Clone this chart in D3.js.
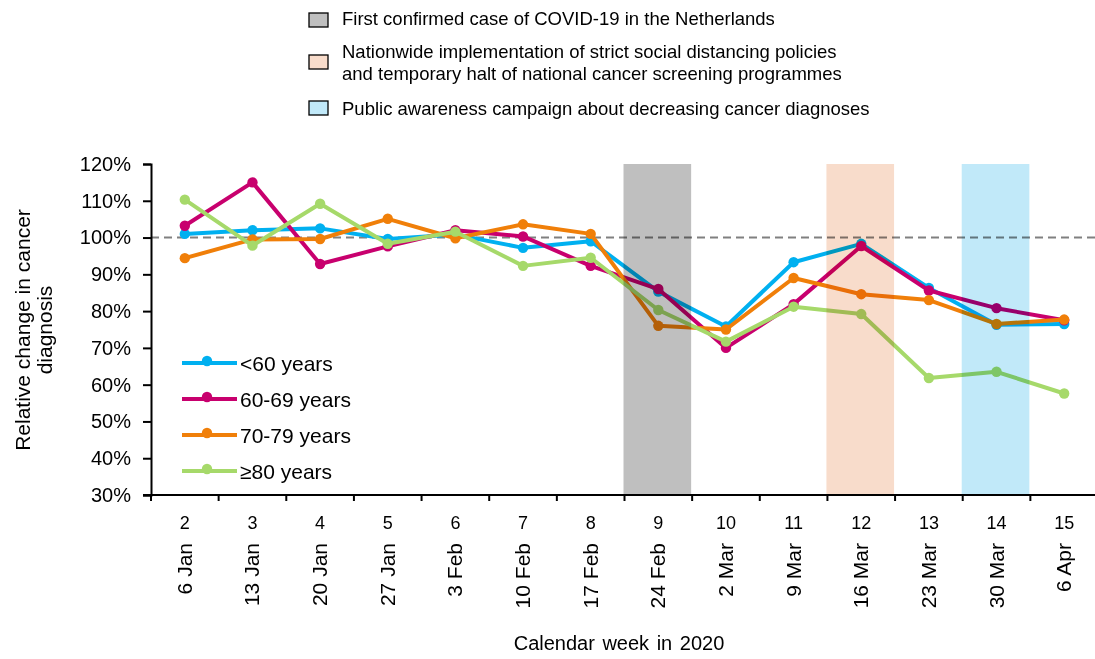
<!DOCTYPE html>
<html>
<head>
<meta charset="utf-8">
<script src="https://cdn.jsdelivr.net/npm/d3@7"></script>
<style>
  body { margin: 0; background: #fff; }
  svg { font-family: 'Liberation Sans', Arial, sans-serif; }
</style>
</head>
<body>
<div id="chart"></div>
<script>
// Calendar weeks and their start dates
const weeks = [2, 3, 4, 5, 6, 7, 8, 9, 10, 11, 12, 13, 14, 15];
const weekDates = ['6 Jan', '13 Jan', '20 Jan', '27 Jan', '3 Feb', '10 Feb', '17 Feb',
  '24 Feb', '2 Mar', '9 Mar', '16 Mar', '23 Mar', '30 Mar', '6 Apr'];

// Relative change (%) per age group
const under60 = [101, 102, 102.5, 99.6, 100.8, 97.2, 99, 85.3, 75.8, 93.3, 98.3, 86.3, 76.3, 76.5];
const age6069 = [103.2, 115, 92.8, 97.6, 102, 100.3, 92.3, 86, 70, 81.9, 97.7, 85.6, 80.8, 77.5];
const age7079 = [94.4, 99.5, 99.6, 105.1, 99.8, 103.6, 101, 76, 75, 89, 84.6, 83, 76.5, 77.7];
const over80 = [110.3, 97.8, 109.2, 98.3, 101.6, 92.3, 94.5, 80.3, 71.7, 81.2, 79.2, 61.8, 63.5, 57.6];

const seriesNames = ['<60 years', '60-69 years', '70-79 years', '\u226580 years'];
const seriesColors = ['#00b0f0', '#c8006e', '#f07f09', '#a6d96a'];

// Highlighted weeks
const eventWeeks = [9, 12, 14];
const eventColors = ['#bfbfbf', '#f8dccb', '#c1e9f9'];
const eventLabels = [
  ['First confirmed case of COVID-19 in the Netherlands'],
  ['Nationwide implementation of strict social distancing policies',
   'and temporary halt of national cancer screening programmes'],
  ['Public awareness campaign about decreasing cancer diagnoses'],
];

const yTicks = [30, 40, 50, 60, 70, 80, 90, 100, 110, 120];

const width = 1095;
const height = 659;
const margin = { left: 151, right: -3, top: 164, bottom: 164 };

const svg = d3.select('#chart').append('svg')
  .attr('width', width)
  .attr('height', height);

const x = d3.scaleBand()
  .domain(weeks)
  .range([margin.left, width - margin.right])
  .padding(0);

const y = d3.scaleLinear()
  .domain([30, 120])
  .range([height - margin.bottom, margin.top]);

const cx = (w) => x(w) + x.bandwidth() / 2;

// Dashed reference line at 100%
svg.append('line')
  .attr('x1', margin.left)
  .attr('x2', width)
  .attr('y1', y(100))
  .attr('y2', y(100))
  .attr('stroke', '#808080')
  .attr('stroke-width', 2)
  .attr('stroke-dasharray', '8,5');

// Series lines and markers
const allSeries = [under60, age6069, age7079, over80];
const line = d3.line()
  .x((d, i) => cx(weeks[i]))
  .y((d) => y(d));

allSeries.forEach((vals, si) => {
  const g = svg.append('g');
  g.append('path')
    .datum(vals)
    .attr('d', line)
    .attr('fill', 'none')
    .attr('stroke', seriesColors[si])
    .attr('stroke-width', 4)
    .attr('stroke-linejoin', 'round');
  g.selectAll('circle')
    .data(vals)
    .join('circle')
    .attr('cx', (d, i) => cx(weeks[i]))
    .attr('cy', (d) => y(d))
    .attr('r', 5.2)
    .attr('fill', seriesColors[si]);
});

// Event bands drawn over the lines (multiply blend)
svg.append('g')
  .selectAll('rect')
  .data(eventWeeks)
  .join('rect')
  .attr('x', (d) => x(d) - 1)
  .attr('y', y(120))
  .attr('width', x.bandwidth())
  .attr('height', y(30) - y(120))
  .attr('fill', (d, i) => eventColors[i])
  .style('mix-blend-mode', 'multiply');

// Y axis
const yAxis = d3.axisLeft(y)
  .tickValues(yTicks)
  .tickFormat((d) => `${d}%`)
  .tickSize(8)
  .tickPadding(12);

const yG = svg.append('g')
  .attr('transform', `translate(${margin.left}, 0)`)
  .call(yAxis);
yG.select('.domain').attr('stroke', '#000').attr('stroke-width', 2);
yG.selectAll('.tick line').attr('stroke', '#000').attr('stroke-width', 2);
yG.selectAll('.tick text')
  .style('font-size', '20px')
  .style('font-family', "'Liberation Sans', Arial, sans-serif")
  .attr('fill', '#000');

// X axis: line with ticks at week boundaries
const xAxisY = y(30);
svg.append('line')
  .attr('x1', margin.left - 8)
  .attr('x2', width)
  .attr('y1', xAxisY)
  .attr('y2', xAxisY)
  .attr('stroke', '#000')
  .attr('stroke-width', 2);

svg.append('g')
  .selectAll('line')
  .data(weeks)
  .join('line')
  .attr('x1', (d) => x(d))
  .attr('x2', (d) => x(d))
  .attr('y1', xAxisY)
  .attr('y2', xAxisY + 6)
  .attr('stroke', '#000')
  .attr('stroke-width', 2);

svg.append('g')
  .selectAll('text')
  .data(weeks)
  .join('text')
  .attr('x', (d) => cx(d))
  .attr('y', 529)
  .attr('text-anchor', 'middle')
  .style('font-size', '18px')
  .text((d) => d);

svg.append('g')
  .selectAll('text')
  .data(weeks)
  .join('text')
  .attr('transform', (d) => `translate(${cx(d) + 7}, 543) rotate(-90)`)
  .attr('text-anchor', 'end')
  .style('font-size', '21px')
  .text((d, i) => weekDates[i]);

// Axis titles
svg.append('text')
  .attr('x', 619)
  .attr('y', 650)
  .attr('text-anchor', 'middle')
  .style('font-size', '20px')
  .attr('word-spacing', '2px')
  .text('Calendar week in 2020');

const yTitle = svg.append('text')
  .attr('transform', 'translate(30, 330) rotate(-90)')
  .attr('text-anchor', 'middle')
  .style('font-size', '21px');
yTitle.append('tspan').attr('x', 0).attr('dy', 0).text('Relative change in cancer');
yTitle.append('tspan').attr('x', 0).attr('dy', 22).text('diagnosis');

// Series legend
const legend = svg.append('g');
seriesNames.forEach((name, i) => {
  const ly = 363 + i * 36;
  legend.append('line')
    .attr('x1', 182).attr('x2', 237)
    .attr('y1', ly).attr('y2', ly)
    .attr('stroke', seriesColors[i])
    .attr('stroke-width', 4);
  legend.append('circle')
    .attr('cx', 207).attr('cy', ly - 2)
    .attr('r', 5.2)
    .attr('fill', seriesColors[i]);
  legend.append('text')
    .attr('x', 240).attr('y', ly + 8)
    .style('font-size', '21px')
    .text(name);
});

// Event legend
const evLegend = svg.append('g');
const boxY = [20, 62, 108];
const textY = [[25], [58, 80], [115]];
eventLabels.forEach((lines, i) => {
  evLegend.append('rect')
    .attr('x', 309).attr('y', boxY[i] - 7)
    .attr('width', 19).attr('height', 14)
    .attr('fill', eventColors[i])
    .attr('stroke', '#000')
    .attr('stroke-width', 1.3);
  const t = evLegend.append('text')
    .style('font-size', '18.5px');
  lines.forEach((l, j) => {
    t.append('tspan').attr('x', 342).attr('y', textY[i][j]).text(l);
  });
});
</script>
</body>
</html>
